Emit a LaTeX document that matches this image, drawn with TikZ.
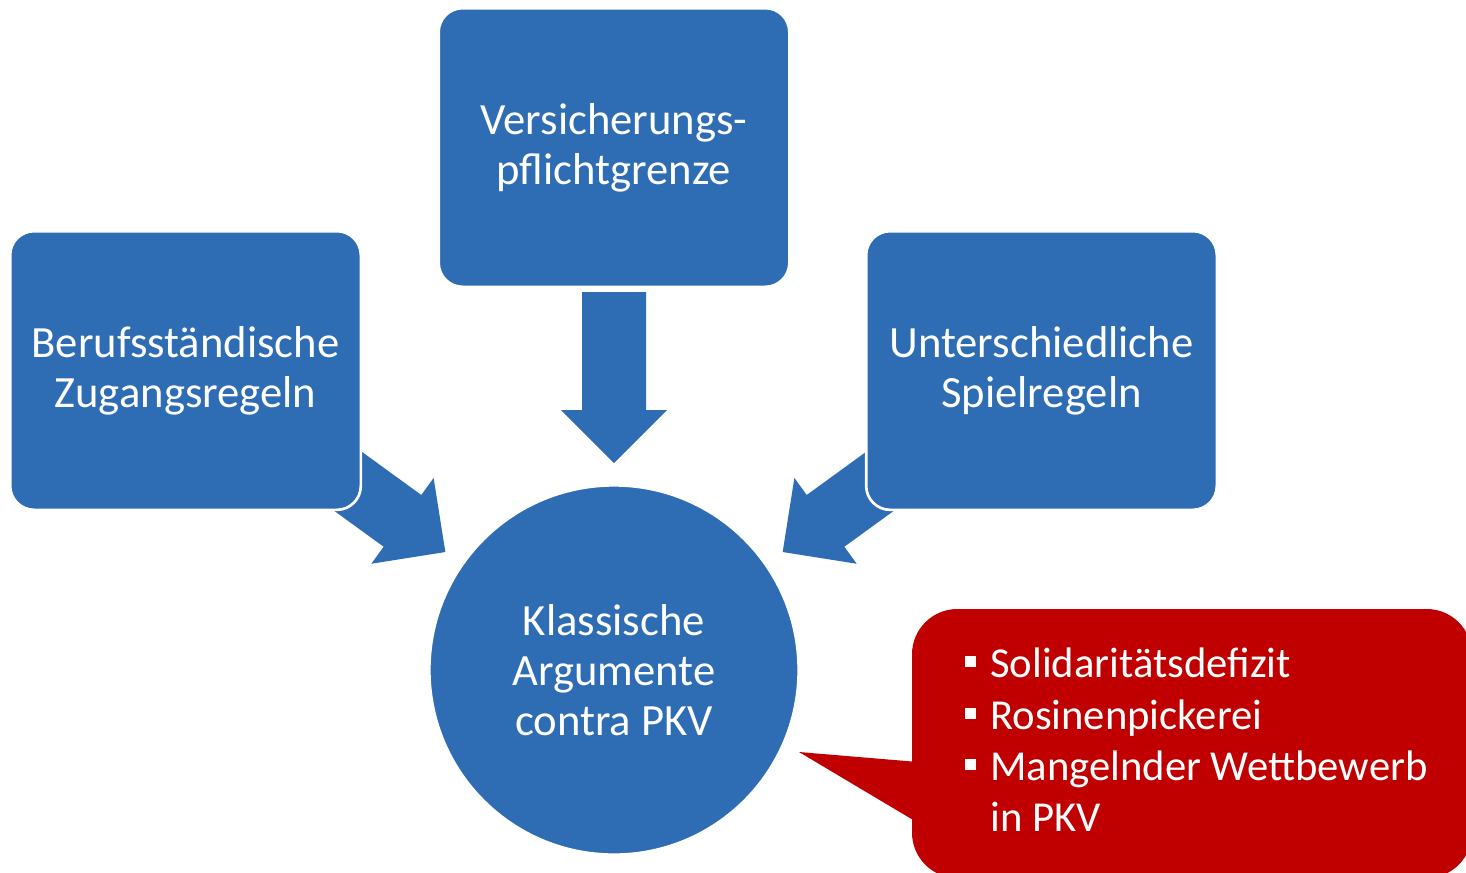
\documentclass[tikz,border=0pt]{standalone}
\usepackage{fontspec}
\setmainfont{Carlito}
\usetikzlibrary{shapes}
\definecolor{pkvblue}{RGB}{46,108,180}
\definecolor{pkvred}{RGB}{192,0,0}
\newcommand{\sqbullet}{\makebox[18.75pt][l]{\raisebox{7.9pt}{\rule{8.25pt}{8.25pt}}}}

\begin{document}
\begin{tikzpicture}[x=0.75pt,y=-0.75pt]
	\tikzstyle{block}=[rectangle, rounded corners=18pt, fill=pkvblue, draw=white, line width=2pt, text=white, align=center, minimum width=263pt, minimum height=209pt, font=\fontsize{33.5}{37.5}\selectfont]
	\tikzstyle{hub}=[circle, fill=pkvblue, draw=white, line width=2pt, text=white, align=center, minimum size=277pt, font=\fontsize{33.5}{37.5}\selectfont]
	\tikzstyle{callout}=[rectangle, rounded corners=34pt, fill=pkvred, inner sep=0pt, minimum width=420pt, minimum height=201.75pt]
	\tikzstyle{listtext}=[text=white, align=left, inner sep=0pt, font=\fontsize{32}{38.5}\selectfont]
	\tikzset{blockarrow/.pic={\fill[pkvblue] (0,-32) -- (118,-32) -- (118,-53) -- (171,0) -- (118,53) -- (118,32) -- (0,32) -- cycle;}}

	\useasboundingbox (0,0) rectangle (1466,872);
	\clip (0,0) rectangle (1466,872);

	% arrows first, the boxes cover their tails
	\pic[rotate=-90] at (614,292) {blockarrow};
	\pic[rotate=-36] at (307,451.5) {blockarrow};
	\pic[rotate=-144] at (921,451.5) {blockarrow};

	\node[block] (berufs) at (185.5,370.5) {Berufsständische\\Zugangsregeln};
	\node[block] (pflicht) at (614,147.5) {Versicherungs-\\pflichtgrenze};
	\node[block] (spielregeln) at (1041.5,370.5) {Unterschiedliche\\Spielregeln};
	\node[hub] (pkv) at (614,670) {Klassische\\Argumente\\contra PKV};

	% red speech bubble
	\node[callout] (defizite) at (1192,743.5) {};
	\coordinate (tip) at (799,752);
	\fill[pkvred] (930,763) -- (tip) -- (930,830) -- cycle;
	\node[listtext, anchor=north west] (punkte) at (965,648) {\sqbullet Solidaritätsdefizit\\
		\sqbullet Rosinenpickerei\\
		\sqbullet Mangelnder Wettbewerb\\
		\hphantom{\sqbullet}in PKV};
\end{tikzpicture}
\end{document}
